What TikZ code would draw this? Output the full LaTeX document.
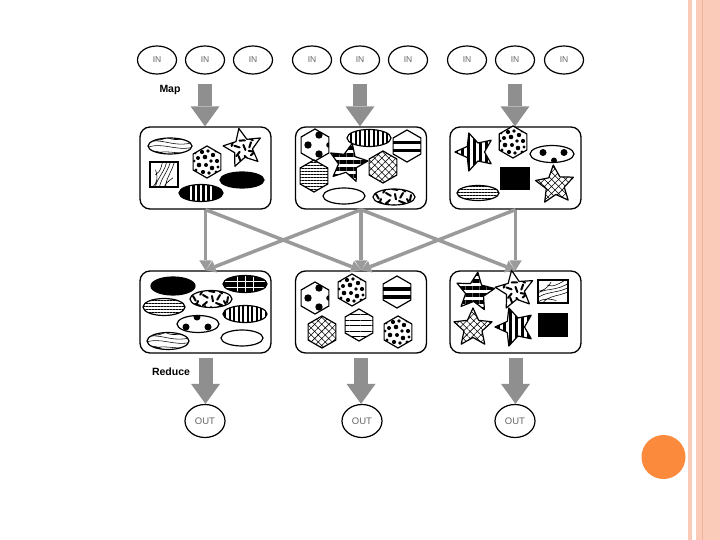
\documentclass[tikz,border=0pt]{standalone}
\usepackage{fontspec}
\setmainfont{Liberation Sans}
\usetikzlibrary{arrows.meta,patterns.meta,shapes.geometric}
\definecolor{arrgray}{HTML}{8F8F8F}
\definecolor{xgray}{HTML}{9A9A9A}
\definecolor{salmon}{HTML}{FBCBB9}
\definecolor{salmondk}{HTML}{F3B39B}
\definecolor{orangec}{HTML}{FB8A3C}

\newcommand\mywood{\draw[line width=0.55pt] (-24,-3) .. controls (-10,-10) and (4,3) .. (24,-4)
 (-24,2) .. controls (-8,-5) and (6,6) .. (24,1)
 (-18,10) .. controls (-8,1) and (8,10) .. (24,6)
 (-4,-10) .. controls (2,-4) and (12,-7) .. (24,-9)
 (-24,7) .. controls (-14,2) and (-6,8) .. (0,12)
 (-20,-8) .. controls (-12,-4) and (-6,-6) .. (2,-12);}
\newcommand\myzebra{\foreach \u/\v/\w in {-18/-3/60,-13/2/110,-8/-4/30,-4/3/140,1/-3/80,5/4/20,9/-4/120,13/2/60,17/-2/100,-16/5/20,11/6/150,-2/-8/10,0/8/60,-8/-9/120,-6/7/80,7/-9/40}{\draw[line width=2pt,line cap=round] (\u,\v) -- ++(\w:5.5);}}
\newcommand\myblobs{\foreach \u/\v/\s in {-5/-10/2.1,1/-11/1.8,6/-7/2.2,-9/-4/2,-2/-5/2.3,4/-1/1.9,10/-1/2.1,-8/3/2.3,-1/3/2,5/6/2.3,-4/10/2.1,2/11/1.8,11/5/1.7,-11/8/1.6,9/-11/1.6,-12/-9/1.5,9/10/1.6,-13/-1/1.5}{\fill (\u,\v) circle [radius=\s];}}
\newcommand\mybands{\fill (-17,-5) rectangle (17,-1.5); \fill (-17,3) rectangle (17,6.5);}
\newcommand\mybigdots{\fill (4,-10) circle[radius=3.7]; \fill (-7,0) circle[radius=3.7]; \fill (4,9) circle[radius=3.7]; \fill (14,0) circle[radius=2.8];}

\newcommand\myhex[3]{%
\begin{scope}[#1]
\path[#2] (90:16) -- (150:16) -- (210:16) -- (270:16) -- (330:16) -- (30:16) -- cycle;
\begin{scope}\clip (90:16) -- (150:16) -- (210:16) -- (270:16) -- (330:16) -- (30:16) -- cycle; #3\end{scope}
\draw[shp] (90:16) -- (150:16) -- (210:16) -- (270:16) -- (330:16) -- (30:16) -- cycle;
\end{scope}}
\newcommand\mystar[3]{%
\begin{scope}[#1]
\path[#2] (-90:20) -- (-54:9.5) -- (-18:20) -- (18:9.5) -- (54:20) -- (90:9.5) -- (126:20) -- (162:9.5) -- (198:20) -- (234:9.5) -- cycle;
\begin{scope}\clip (-90:20) -- (-54:9.5) -- (-18:20) -- (18:9.5) -- (54:20) -- (90:9.5) -- (126:20) -- (162:9.5) -- (198:20) -- (234:9.5) -- cycle; #3\end{scope}
\draw[shp] (-90:20) -- (-54:9.5) -- (-18:20) -- (18:9.5) -- (54:20) -- (90:9.5) -- (126:20) -- (162:9.5) -- (198:20) -- (234:9.5) -- cycle;
\end{scope}}
\newcommand\myoval[5]{%
\begin{scope}[#1]
\path[#4] (0,0) ellipse [x radius=#2,y radius=#3];
\begin{scope}\clip (0,0) ellipse [x radius=#2,y radius=#3]; #5\end{scope}
\draw[shp] (0,0) ellipse [x radius=#2,y radius=#3];
\end{scope}}

\begin{document}
\begin{tikzpicture}[x=1pt,y=-1pt,
 shp/.style={draw=black,line width=1.2pt,line join=round},
 inn/.style={ellipse,draw,line width=1.2pt,minimum width=39pt,minimum height=28pt,inner sep=0pt,font=\fontsize{8.5}{9}\selectfont,text=black!60},
 outn/.style={inn,minimum width=40pt,minimum height=33pt,font=\fontsize{9.5}{10}\selectfont},
 boxn/.style={draw,line width=1.3pt,rounded corners=10pt,minimum width=131pt,minimum height=82pt,inner sep=0pt},
 bigarr/.style={draw=arrgray,line width=14pt,-{Triangle[width=29pt,length=20pt,line width=0pt]}},
 xarr/.style={draw=xgray,line width=3.5pt,-{Triangle[width=12.5pt,length=10pt,line width=0pt]}},
 lbl/.style={font=\fontsize{10.5}{11}\selectfont\bfseries},
 vstr/.style={pattern={Lines[angle=90,distance=4.5pt,line width=2pt]}},
 hthin/.style={pattern={Lines[angle=0,distance=3pt,line width=0.6pt]}},
 hthinb/.style={pattern={Lines[angle=0,distance=5.5pt,line width=0.7pt]}},
 hthick/.style={pattern={Lines[angle=0,distance=7pt,line width=3.4pt]}},
 vthick/.style={pattern={Lines[angle=90,distance=6pt,line width=3pt]}},
 xhatch/.style={pattern={Hatch[angle=45,distance=5pt,line width=0.55pt]}}]

\fill[white] (0,0) rectangle (720,540);
\useasboundingbox (0,0) rectangle (720,540);

% right decoration
\fill[salmon] (688.3,0) rectangle (692.3,540);
\fill[salmon] (695.7,0) rectangle (720,540);
\fill[salmondk] (701.7,0) rectangle (703.2,540);
\fill[orangec] (663.5,457) circle [radius=22];

% IN nodes
\node[inn] (i1) at (157,60) {IN};
\node[inn] (i2) at (205,60) {IN};
\node[inn] (i3) at (253,60) {IN};
\node[inn] (i4) at (312,60) {IN};
\node[inn] (i5) at (360,60) {IN};
\node[inn] (i6) at (408,60) {IN};
\node[inn] (i7) at (467,60) {IN};
\node[inn] (i8) at (515,60) {IN};
\node[inn] (i9) at (564,60) {IN};

\node[lbl] (map) at (170,90) {Map};
\node[lbl] (red) at (171,372) {Reduce};

% boxes
\node[boxn] (b1) at (205.5,168) {};
\node[boxn] (b2) at (361,168) {};
\node[boxn] (b3) at (515.5,168) {};
\node[boxn] (b4) at (205.5,312) {};
\node[boxn] (b5) at (361,312) {};
\node[boxn] (b6) at (515.5,312) {};

% OUT nodes
\node[outn] (o1) at (205,421) {OUT};
\node[outn] (o2) at (362,421) {OUT};
\node[outn] (o3) at (515,421) {OUT};

% map arrows
\draw[bigarr,shorten <=9pt] (i2.south) -- (i2.south |- b1.north);
\draw[bigarr,shorten <=9pt] (i5.south) -- (i5.south |- b2.north);
\draw[bigarr,shorten <=9pt] (i8.south) -- (i8.south |- b3.north);
% reduce arrows
\draw[bigarr,shorten <=4pt] (b4.south) -- (b4.south |- o1.north);
\draw[bigarr,shorten <=4pt] (b5.south) -- (b5.south |- o2.north);
\draw[bigarr,shorten <=4pt] (b6.south) -- (b6.south |- o3.north);
% shuffle arrows
\draw[xarr] (b1.south) -- (b4.north);
\draw[xarr] (b1.south) -- (b5.north);
\draw[xarr] (b2.south) -- (b4.north);
\draw[xarr] (b2.south) -- (b5.north);
\draw[xarr] (b2.south) -- (b6.north);
\draw[xarr] (b3.south) -- (b5.north);
\draw[xarr] (b3.south) -- (b6.north);

% box 1
\myoval{shift={(170,146)}}{22}{8}{fill=white}{\mywood}
\mystar{shift={(243,148)},rotate=12}{fill=white}{\myzebra}
\myhex{shift={(207,162)}}{fill=white}{\myblobs}
\begin{scope}\clip (150,162) rectangle (178,187); \begin{scope}[shift={(164,174.5)},rotate=70,scale=0.8]\mywood\end{scope}\end{scope}
\draw[line width=2.2pt] (150,162) rectangle (178,187);
\myoval{shift={(242,180)}}{22}{8}{fill=black}{}
\myoval{shift={(201,193)}}{22}{8.5}{fill=black}{\draw[white,line width=1.2pt] (-10,-9) -- (-10,9) (-5,-9) -- (-5,9) (0,-9)--(0,9) (5,-9)--(5,9) (10,-9)--(10,9);}

% box 2
\myhex{shift={(315,145)}}{fill=white}{\mybigdots}
\myoval{shift={(369,138)}}{22}{8.5}{vstr}{}
\myhex{shift={(407,146)}}{fill=white}{\mybands}
\mystar{shift={(348,163)},rotate=-12}{hthick}{}
\myhex{shift={(383,167)}}{xhatch}{}
\myhex{shift={(314,176)}}{hthin}{}
\myoval{shift={(344,196)}}{21}{8}{fill=white}{}
\myoval{shift={(394,197)}}{21}{8}{fill=white}{\myzebra}

% box 3
\mystar{shift={(475,152)},rotate=90}{vthick}{}
\myhex{shift={(513,142)}}{fill=white}{\myblobs}
\myoval{shift={(552,154)}}{22}{8.5}{fill=white}{\fill (-9,-1.5) circle[radius=3.5]; \fill (12,-1.5) circle[radius=3.5]; \fill (2,6.5) circle[radius=3];}
\fill (500,167) rectangle (530,190);
\myoval{shift={(478,193)}}{21}{7.5}{hthin}{}
\mystar{shift={(555,185)},rotate=5}{xhatch}{}

% box 4
\myoval{shift={(173,286)}}{22}{9}{fill=black}{}
\myoval{shift={(245,284)}}{22}{8.5}{fill=black}{\draw[white,line width=0.8pt] (-8,-10)--(-8,10) (0,-10)--(0,10) (8,-10)--(8,10) (-23,-3)--(23,-3) (-23,3)--(23,3);}
\myoval{shift={(211,299)}}{21}{8.5}{fill=white}{\myzebra}
\myoval{shift={(164,307)}}{21}{8.5}{hthin}{}
\myoval{shift={(245,314)}}{22}{8.5}{vstr}{}
\myoval{shift={(198,324)}}{21}{8.5}{fill=white}{\fill (-1,-7) circle[radius=3.5]; \fill (-12,3) circle[radius=3.5]; \fill (10,3) circle[radius=3.5];}
\myoval{shift={(168,341)}}{21}{8.5}{fill=white}{\mywood}
\myoval{shift={(242,338)}}{21}{8}{fill=white}{}

% box 5
\myhex{shift={(315,298)}}{fill=white}{\mybigdots}
\myhex{shift={(352,290)}}{fill=white}{\myblobs}
\myhex{shift={(397,292)}}{fill=white}{\mybands}
\myhex{shift={(322,332)}}{xhatch}{}
\myhex{shift={(359,325)}}{hthinb}{}
\myhex{shift={(398,332)}}{fill=white}{\myblobs}

% box 6
\mystar{shift={(475,292)},rotate=-8}{hthick}{}
\mystar{shift={(515,290)},rotate=10}{fill=white}{\myzebra}
\begin{scope}\clip (538,280) rectangle (568,303); \begin{scope}[shift={(553,291.5)},rotate=20,scale=0.8]\mywood\end{scope}\end{scope}
\draw[line width=2.2pt] (538,280) rectangle (568,303);
\mystar{shift={(473,328)}}{xhatch}{}
\mystar{shift={(515,327)},rotate=90}{vthick}{}
\fill (538,313) rectangle (568,337);
\end{tikzpicture}
\end{document}
